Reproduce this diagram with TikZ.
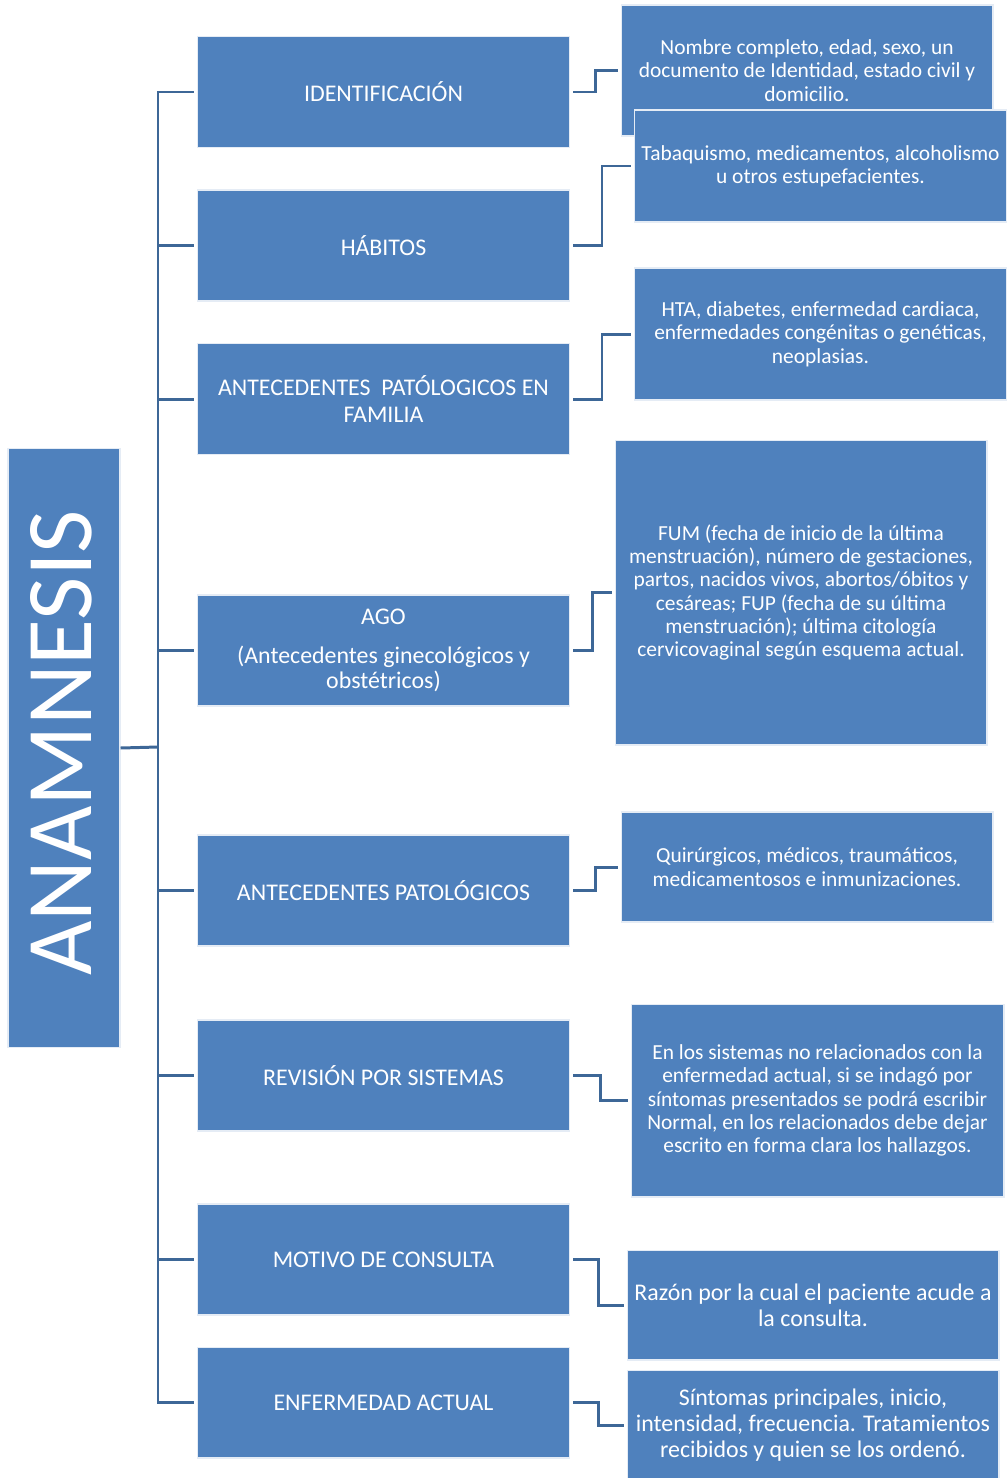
\documentclass[tikz,border=0pt]{standalone}
\usepackage{fontspec}
\setmainfont{Carlito}
\usepackage{tikz}
\usetikzlibrary{calc}
\usetikzlibrary{positioning}
\definecolor{boxblue}{HTML}{4F81BD}
\definecolor{linkblue}{HTML}{3D6797}

\begin{document}
\begin{tikzpicture}[
    x=0.02cm, y=-0.02cm,
    box/.style={rectangle, draw=white!85!boxblue, line width=0.6pt, fill=boxblue, text=white, align=center, inner sep=0pt},
    title box/.style={box, minimum width=2.24cm, minimum height=12cm},
    topic/.style={box, minimum width=7.46cm, minimum height=2.22cm, font=\fontsize{13.6}{15.3}\selectfont},
    detail/.style={box, minimum width=7.44cm, font=\fontsize{12.2}{13.3}\selectfont},
    big detail/.style={detail, font=\fontsize{13.6}{15}\selectfont},
    link/.style={draw=linkblue, line width=1.7pt}
]
\useasboundingbox (0,0) rectangle (1007,1478);

% Title
\node[title box] (anam) at (64,748) {};
\node[rotate=90, text=white, inner sep=0pt] (anamtxt) at (61,743)
    {\fontsize{53.5}{54}\selectfont ANAMNESIS};

% Topics
\node[topic] (ident) at (383.5,92) {IDENTIFICACIÓN};
\node[topic] (habit) at (383.5,245.5) {HÁBITOS};
\node[topic] (famil) at (383.5,399) {ANTECEDENTES\ \ PATÓLOGICOS EN\\FAMILIA};
\node[topic, font=\fontsize{13.6}{14.3}\selectfont] (ago) at (383.5,650.5)
    {AGO\\[8pt](Antecedentes ginecológicos y\\obstétricos)};
\node[topic] (antpat) at (383.5,890.5) {ANTECEDENTES PATOLÓGICOS};
\node[topic] (revis) at (383.5,1075.5) {REVISIÓN POR SISTEMAS};
\node[topic] (motivo) at (383.5,1259.5) {MOTIVO DE CONSULTA};
\node[topic] (enfact) at (383.5,1402.5) {ENFERMEDAD ACTUAL};

% Details
\node[detail, minimum height=2.62cm] (ident-d) at (807,70.5)
    {Nombre completo, edad, sexo, un\\documento de Identidad, estado civil y\\domicilio.};
\node[detail, minimum width=7.46cm, minimum height=2.24cm] (habit-d) at (820.5,166)
    {Tabaquismo, medicamentos, alcoholismo\\u otros estupefacientes.};
\node[detail, minimum width=7.46cm, minimum height=2.64cm] (famil-d) at (820.5,334)
    {HTA, diabetes, enfermedad cardiaca,\\enfermedades congénitas o genéticas,\\neoplasias.};
\node[detail, minimum height=6.1cm] (ago-d) at (801,592.5)
    {FUM (fecha de inicio de la última\\menstruación), número de gestaciones,\\partos, nacidos vivos, abortos/óbitos y\\cesáreas; FUP (fecha de su última\\menstruación); última citología\\cervicovaginal según esquema actual.};
\node[detail, minimum height=2.2cm] (antpat-d) at (807,867)
    {Quirúrgicos, médicos, traumáticos,\\medicamentosos e inmunizaciones.};
\node[detail, minimum width=7.46cm, minimum height=3.86cm] (revis-d) at (817.5,1100.5)
    {En los sistemas no relacionados con la\\enfermedad actual, si se indagó por\\síntomas presentados se podrá escribir\\Normal, en los relacionados debe dejar\\escrito en forma clara los hallazgos.};
\node[big detail, minimum height=2.2cm] (motivo-d) at (813,1305)
    {Razón por la cual el paciente acude a\\la consulta.};
\node[big detail, minimum height=2.2cm] (enfact-d) at (813,1425)
    {Síntomas principales, inicio,\\intensidad, frecuencia. Tratamientos\\recibidos y quien se los ordenó.};

% Trunk from title to topics
\coordinate (trunk) at (158,747);
\draw[link] (anam.east) -- (trunk);
\foreach \t in {ident,habit,famil,ago,antpat,revis,motivo,enfact}
    \draw[link, shorten >=1.5pt] (trunk) |- (\t.west);

% Elbows from topics to details
\foreach \t in {ident,habit,famil,ago,antpat,revis,motivo,enfact}
    \draw[link, shorten <=1.5pt, shorten >=1.5pt]
        (\t.east) -| ($(\t.east)!.5!(\t-d.west)$) |- (\t-d.west);

\end{tikzpicture}
\end{document}
